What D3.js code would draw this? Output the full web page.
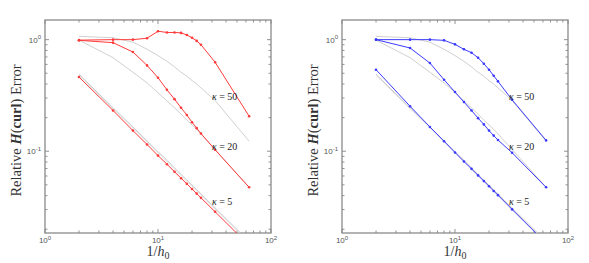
<!DOCTYPE html>
<html lang="en">
<head>
    <meta charset="utf-8">
    <script src="https://d3js.org/d3.v7.min.js"></script>
    <style>
        body { margin: 0; background: #fff; }
        svg { display: block; }
    </style>
</head>
<body>
    <div id="chart"></div>
    <script>
        // mesh sizes 1/h0
        const invH = [2, 4, 6, 8, 10, 12, 14, 16, 18, 20, 22, 24, 32, 64];

        // left panel (red)
        const red50 = [0.99, 1.0, 1.0, 1.03, 1.19, 1.16, 1.16, 1.15, 1.10, 1.04, 0.975, 0.90, 0.628, 0.206];
        const red20 = [0.986, 0.94, 0.775, 0.588, 0.456, 0.355, 0.293, 0.245, 0.211, 0.182, 0.161, 0.144, 0.103, 0.0475];
        const red5 = [0.462, 0.232, 0.153, 0.115, 0.0914, 0.0765, 0.0655, 0.0573, 0.051, 0.0459, 0.0417, 0.0382, 0.0287, 0.0143];

        // right panel (blue)
        const blue50 = [1.0, 1.0, 1.0, 0.986, 0.908, 0.819, 0.764, 0.689, 0.609, 0.538, 0.475, 0.423, 0.289, 0.125];
        const blue20 = [1.0, 0.842, 0.617, 0.437, 0.339, 0.276, 0.232, 0.198, 0.174, 0.153, 0.138, 0.126, 0.097, 0.0475];
        const blue5 = [0.538, 0.253, 0.165, 0.123, 0.0975, 0.081, 0.0695, 0.0607, 0.054, 0.0485, 0.044, 0.0404, 0.0301, 0.015];

        // reference curves shown in grey on both panels
        const grey50 = [1.07, 1.04, 0.95, 0.82, 0.72, 0.64, 0.57, 0.51, 0.47, 0.43, 0.40, 0.37, 0.285, 0.123];
        const grey20 = [0.99, 0.69, 0.51, 0.41, 0.335, 0.283, 0.245, 0.215, 0.19, 0.172, 0.157, 0.143, 0.104, 0.0475];
        const grey5 = [0.49, 0.245, 0.165, 0.124, 0.099, 0.083, 0.071, 0.062, 0.055, 0.0497, 0.0452, 0.0415, 0.031, 0.0156];
        const grey5b = [0.48, 0.24, 0.161, 0.121, 0.097, 0.081, 0.0695, 0.0607, 0.054, 0.0487, 0.0443, 0.0406, 0.0304, 0.0152];

        const kappaLabels = ["50", "20", "5"];
        const kappaLabelY = [0.311, 0.110, 0.0355];
        const kappaLabelX = 30;

        const xTicks = [1, 10, 100];
        const xTickExp = ["0", "1", "2"];
        const yTicks = [1, 0.1];
        const yTickExp = ["0", "-1"];

        const W = 589, H = 263;
        const svg = d3.select("#chart").append("svg")
            .attr("width", W).attr("height", H)
            .style("font-family", "'Liberation Serif', 'DejaVu Serif', serif");

        const panels = [
            { x0: 45, x1: 271, color: "#ff3a3a", series: [red50, red20, red5] },
            { x0: 342, x1: 568, color: "#3a3aff", series: [blue50, blue20, blue5] }
        ];
        const plotTop = 20, plotBottom = 233;

        // minor tick values per decade
        function minors(lo, hi) {
            const out = [];
            for (let e = Math.floor(Math.log10(lo)); e <= Math.ceil(Math.log10(hi)); e++) {
                for (let m = 1; m < 10; m++) {
                    const v = m * Math.pow(10, e);
                    if (v >= lo && v <= hi) out.push(v);
                }
            }
            return out;
        }

        panels.forEach(function (p, pi) {
            const x = d3.scaleLog().domain([1, 100]).range([p.x0, p.x1]);
            const y = d3.scaleLog().domain([0.0185, 1.5]).range([plotBottom, plotTop]);
            const g = svg.append("g");

            const clipId = "clip" + pi;
            svg.append("clipPath").attr("id", clipId)
                .append("rect")
                .attr("x", p.x0).attr("y", plotTop)
                .attr("width", p.x1 - p.x0).attr("height", plotBottom - plotTop);

            // ticks inward on all sides
            const tickCol = "#777";
            minors(1, 100).forEach(function (v) {
                const major = xTicks.includes(v);
                const len = major ? 4 : 2.5;
                g.append("line").attr("x1", x(v)).attr("x2", x(v))
                    .attr("y1", plotBottom).attr("y2", plotBottom - len)
                    .attr("stroke", tickCol).attr("stroke-width", 0.8);
                g.append("line").attr("x1", x(v)).attr("x2", x(v))
                    .attr("y1", plotTop).attr("y2", plotTop + len)
                    .attr("stroke", tickCol).attr("stroke-width", 0.8);
            });
            minors(0.0185, 1.5).forEach(function (v) {
                const major = yTicks.some(t => Math.abs(t - v) < 1e-9);
                const len = major ? 4 : 2.5;
                g.append("line").attr("y1", y(v)).attr("y2", y(v))
                    .attr("x1", p.x0).attr("x2", p.x0 + len)
                    .attr("stroke", tickCol).attr("stroke-width", 0.8);
                g.append("line").attr("y1", y(v)).attr("y2", y(v))
                    .attr("x1", p.x1).attr("x2", p.x1 - len)
                    .attr("stroke", tickCol).attr("stroke-width", 0.8);
            });

            // box
            g.append("rect")
                .attr("x", p.x0).attr("y", plotTop)
                .attr("width", p.x1 - p.x0).attr("height", plotBottom - plotTop)
                .attr("fill", "none").attr("stroke", "#8a8a8a").attr("stroke-width", 1.3);

            // tick labels
            xTicks.forEach(function (v, i) {
                const t = g.append("text")
                    .attr("x", x(v)).attr("y", 243)
                    .attr("text-anchor", "middle")
                    .attr("font-family", "'Liberation Sans', Arial, sans-serif")
                    .attr("font-size", 8).attr("fill", "#555");
                t.append("tspan").text("10");
                t.append("tspan").attr("dy", -3.5).attr("font-size", 6).text(xTickExp[i]);
            });
            yTicks.forEach(function (v, i) {
                const t = g.append("text")
                    .attr("x", p.x0 - 4).attr("y", y(v) + 3)
                    .attr("text-anchor", "end")
                    .attr("font-family", "'Liberation Sans', Arial, sans-serif")
                    .attr("font-size", 8).attr("fill", "#555");
                t.append("tspan").text("10");
                t.append("tspan").attr("dy", -3.5).attr("font-size", 6).text(yTickExp[i]);
            });

            // axis labels
            const xl = g.append("text")
                .attr("x", (p.x0 + p.x1) / 2).attr("y", 256)
                .attr("text-anchor", "middle")
                .attr("font-size", 14).attr("fill", "#333");
            xl.append("tspan").text("1/");
            xl.append("tspan").attr("font-style", "italic").text("h");
            xl.append("tspan").attr("dy", 3).attr("font-size", 10).text("0");

            const yl = g.append("text")
                .attr("transform", `translate(${p.x0 - 24},${(plotTop + plotBottom) / 2 + 4}) rotate(-90)`)
                .attr("text-anchor", "middle")
                .attr("font-size", 14.5).attr("fill", "#333");
            yl.append("tspan").text("Relative ");
            yl.append("tspan").attr("font-weight", "bold").attr("font-style", "italic").text("H");
            yl.append("tspan").text("(");
            yl.append("tspan").attr("font-weight", "bold").text("curl");
            yl.append("tspan").text(") Error");

            const line = d3.line()
                .x((d, i) => x(invH[i]))
                .y(d => y(d));

            const plot = g.append("g").attr("clip-path", `url(#${clipId})`);

            // grey reference curves
            [[grey50, "#c4c4c4"], [grey20, "#c4c4c4"], [grey5, "#bcbcbc"], [grey5b, "#dadada"]].forEach(function (s) {
                plot.append("path")
                    .datum(s[0])
                    .attr("d", line)
                    .attr("fill", "none")
                    .attr("stroke", s[1])
                    .attr("stroke-width", 0.8);
            });

            // coloured series with dot markers
            p.series.forEach(function (s) {
                plot.append("path")
                    .datum(s)
                    .attr("d", line)
                    .attr("fill", "none")
                    .attr("stroke", p.color)
                    .attr("stroke-width", 1);
                plot.selectAll(null)
                    .data(s)
                    .join("circle")
                    .attr("cx", (d, i) => x(invH[i]))
                    .attr("cy", d => y(d))
                    .attr("r", 1.3)
                    .attr("fill", p.color);
            });

            // kappa labels
            kappaLabels.forEach(function (k, i) {
                const t = g.append("text")
                    .attr("x", x(kappaLabelX)).attr("y", y(kappaLabelY[i]) + 3.5)
                    .attr("font-size", 10).attr("fill", "#222");
                t.append("tspan").attr("font-style", "italic").text("κ");
                t.append("tspan").text(" = " + k);
            });
        });
    </script>
</body>
</html>
